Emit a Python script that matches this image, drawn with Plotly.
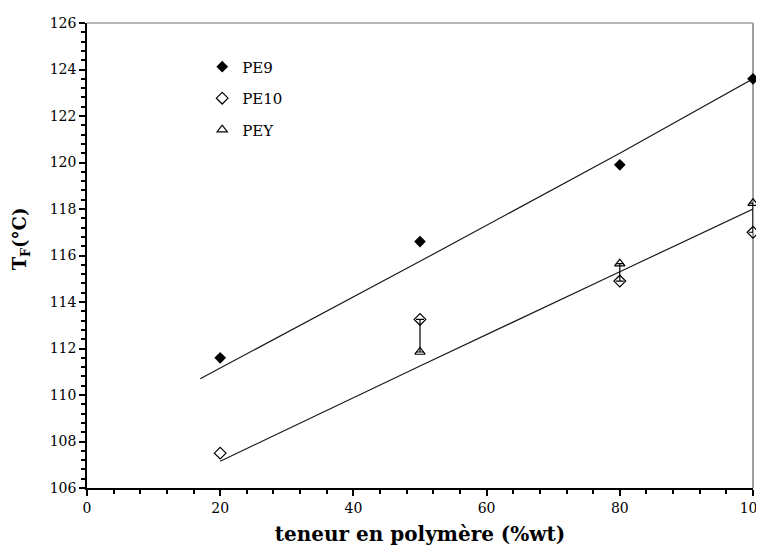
import plotly.graph_objects as go

# Data
pe9_x = [20, 50, 80, 100]
pe9_y = [111.6, 116.6, 119.9, 123.6]

pe10_x = [20, 50, 80, 100]
pe10_y = [107.5, 113.25, 114.9, 117.0]

pey_x = [50, 80, 100]
pey_y = [111.85, 115.65, 118.25]
pey_err_plus = [1.4, 0.0, 0.0]
pey_err_minus = [0.0, 0.75, 1.25]

fit_upper_x = [17, 50, 80, 100]
fit_upper_y = [110.7, 115.75, 120.4, 123.6]
fit_lower_x = [20, 50, 80, 100]
fit_lower_y = [107.15, 111.25, 115.3, 118.0]

x_ticks = [0, 20, 40, 60, 80, 100]
y_ticks = [106, 108, 110, 112, 114, 116, 118, 120, 122, 124, 126]

FONT = "DejaVu Serif"

fig = go.Figure()

fig.add_trace(go.Scatter(x=fit_upper_x, y=fit_upper_y, mode="lines",
                         line=dict(color="#1a1a1a", width=1.2), showlegend=False,
                         hoverinfo="skip", cliponaxis=False))
fig.add_trace(go.Scatter(x=fit_lower_x, y=fit_lower_y, mode="lines",
                         line=dict(color="#1a1a1a", width=1.2), showlegend=False,
                         hoverinfo="skip", cliponaxis=False))

fig.add_trace(go.Scatter(x=pe9_x, y=pe9_y, mode="markers", name="PE9",
                         legendgroup="a", cliponaxis=False,
                         marker=dict(symbol="diamond", size=9, color="black")))
fig.add_trace(go.Scatter(x=pe10_x, y=pe10_y, mode="markers", name="PE10",
                         legendgroup="b", cliponaxis=False,
                         marker=dict(symbol="diamond-open", size=9, color="black",
                                     line=dict(width=1.2))))
fig.add_trace(go.Scatter(x=pey_x, y=pey_y, mode="markers", name="PEY",
                         legendgroup="c", cliponaxis=False,
                         marker=dict(symbol="triangle-up-open", size=9, color="black",
                                     line=dict(width=1.2)),
                         error_y=dict(type="data", symmetric=False,
                                      array=pey_err_plus, arrayminus=pey_err_minus,
                                      color="black", thickness=1.2, width=4)))

# gray top and right frame lines
fig.add_shape(type="line", xref="x domain", yref="y domain", x0=0, x1=1, y0=1, y1=1,
              line=dict(color="#a0a0a0", width=1.5), layer="below")
fig.add_shape(type="line", xref="x domain", yref="y domain", x0=1, x1=1, y0=0, y1=1,
              line=dict(color="#a0a0a0", width=2), layer="below")

fig.add_annotation(text="<b>T<sub>F</sub>(°C)</b>", xref="paper", yref="paper",
                   x=-0.099, y=0.535, xanchor="center", yanchor="middle",
                   textangle=-90, showarrow=False,
                   font=dict(family=FONT, size=18, color="black"))

# page body has an 8px margin: figure is sized to fill the rest of the window
fig.update_layout(
    width=756, height=539,
    margin=dict(l=79, r=11, t=15, b=59),
    paper_bgcolor="white", plot_bgcolor="white",
    font=dict(family=FONT, size=14, color="black"),
    showlegend=True,
    legend=dict(x=0.173, y=0.941, xanchor="left", yanchor="top",
                bgcolor="rgba(0,0,0,0)", font=dict(family=FONT, size=15),
                tracegroupgap=9, itemwidth=30),
    xaxis=dict(range=[0, 100], tickvals=x_ticks, ticks="outside", ticklen=6,
               tickwidth=1.5, tickcolor="black", ticklabeloverflow="allow",
               automargin=False,
               minor=dict(dtick=4, ticks="outside", ticklen=4, tickcolor="black", tickwidth=1.5),
               showline=True, linecolor="black", linewidth=1.5, showgrid=False,
               zeroline=False, tickfont=dict(family=FONT, size=14),
               title=dict(text="<b>teneur en polymère (%wt)</b>",
                          font=dict(family=FONT, size=20), standoff=12)),
    yaxis=dict(range=[106, 126], tickvals=y_ticks, ticks="outside", ticklen=6,
               tickwidth=1.5, tickcolor="black", automargin=False,
               minor=dict(dtick=0.4, tick0=106, ticks="outside", ticklen=4, tickcolor="black", tickwidth=1.5),
               showline=True, linecolor="black", linewidth=1.5, showgrid=False,
               zeroline=False, tickfont=dict(family=FONT, size=14)),
)

fig.write_html("out.html")
